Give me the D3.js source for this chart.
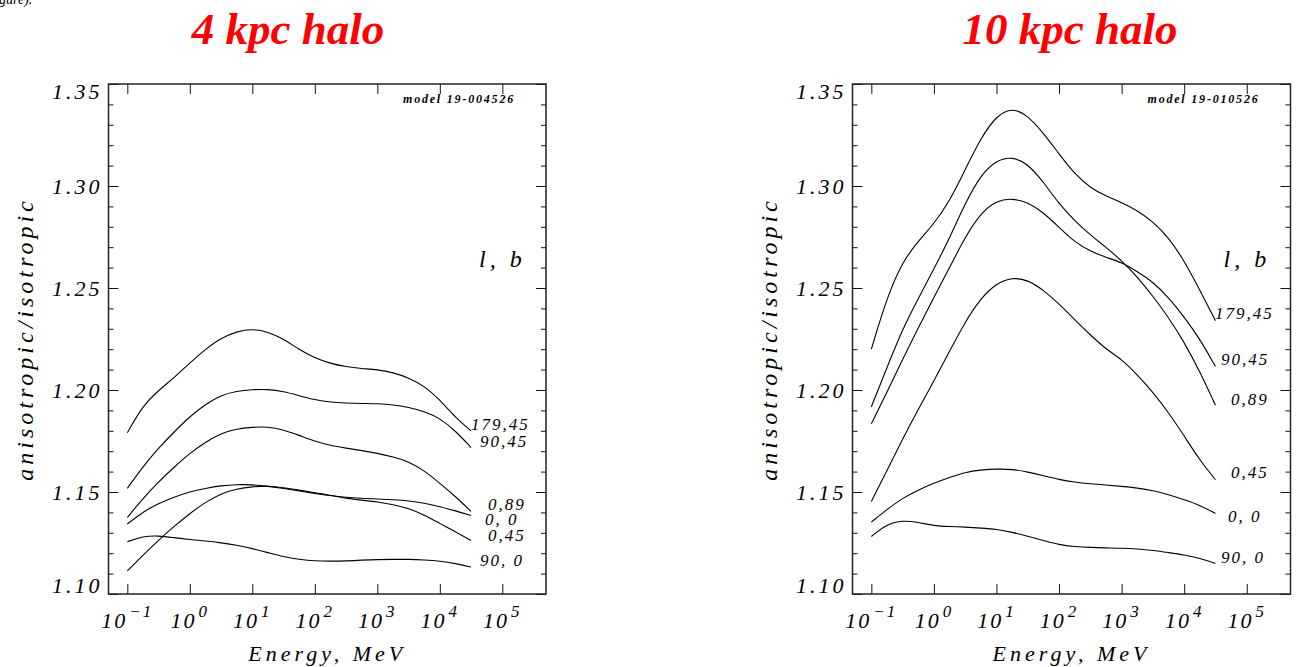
<!DOCTYPE html>
<html lang="en">
  <head>
    <meta charset="UTF-8" />
    <title>anisotropic / isotropic ratio, 4 and 10 kpc halo</title>
    <style type="text/css">
      html,
      body {
        margin: 0;
        padding: 0;
        background: #fff;
      }

      svg {
        display: block;
      }

      text {
        font-family: "Liberation Serif", "Times New Roman", serif;
        font-style: italic;
        fill: #000;
      }

      .tick line {
        stroke: #111;
        stroke-width: 1;
      }

      .frame {
        fill: none;
        stroke: #222;
        stroke-width: 1.5;
      }

      .curve {
        fill: none;
        stroke: #000;
        stroke-width: 1.1;
      }
    </style>
  </head>
  <body>
    <svg id="chart" width="1297" height="667"></svg>

    <script src="https://cdn.jsdelivr.net/npm/d3@7"></script>
    <script>
      // === Data === //

      // energy grid, MeV (quarter-decade steps from 0.1 to 3e4)
      var energy = [0.1, 0.178, 0.316, 0.562, 1, 1.78, 3.16, 5.62, 10, 17.8, 31.6, 56.2,
        100, 178, 316, 562, 1000, 1780, 3160, 5620, 10000, 17800, 31600];

      var seriesNames = ["179,45", "90,45", "0,89", "0, 0", "0,45", "90, 0"];

      // 4 kpc halo
      var h4_179_45 = [1.179, 1.1925, 1.1998, 1.2060, 1.2133, 1.2200, 1.2255, 1.2287, 1.2300, 1.2285, 1.2250, 1.2198,
        1.2157, 1.2130, 1.2114, 1.2105, 1.2100, 1.2086, 1.2060, 1.2020, 1.1952, 1.1865, 1.1800];
      var h4_90_45 = [1.1518, 1.1625, 1.1715, 1.1795, 1.1870, 1.1930, 1.1975, 1.1995, 1.2002, 1.2004, 1.1993, 1.1972,
        1.1952, 1.1940, 1.1936, 1.1934, 1.1933, 1.1928, 1.1916, 1.1895, 1.1862, 1.1800, 1.1718];
      var h4_0_89 = [1.1375, 1.1469, 1.1550, 1.1622, 1.1690, 1.1745, 1.1787, 1.1810, 1.1818, 1.1820, 1.1805, 1.1778,
        1.1748, 1.1728, 1.1715, 1.1703, 1.1690, 1.1672, 1.1650, 1.1605, 1.1543, 1.1478, 1.1405];
      var h4_0_0 = [1.1343, 1.1403, 1.1444, 1.1475, 1.1502, 1.1518, 1.1531, 1.1537, 1.1536, 1.1528, 1.1518, 1.1505,
        1.1493, 1.1482, 1.1474, 1.1469, 1.1466, 1.1462, 1.1457, 1.1446, 1.1428, 1.1408, 1.1385];
      var h4_0_45 = [1.1113, 1.1190, 1.1264, 1.1332, 1.1395, 1.1450, 1.1493, 1.1515, 1.1526, 1.1531, 1.1521, 1.1509,
        1.1497, 1.1483, 1.1469, 1.1460, 1.1452, 1.1438, 1.1420, 1.1388, 1.1346, 1.1305, 1.1262];
      var h4_90_0 = [1.1256, 1.1283, 1.1286, 1.1276, 1.1267, 1.1260, 1.1251, 1.1240, 1.1223, 1.1203, 1.1182, 1.1170,
        1.1162, 1.1161, 1.1162, 1.1166, 1.1169, 1.1170, 1.1170, 1.1167, 1.1162, 1.1150, 1.1132];

      // 10 kpc halo
      var h10_179_45 = [1.2200, 1.2455, 1.2630, 1.2730, 1.2814, 1.2926, 1.3080, 1.3235, 1.3345, 1.3385, 1.3345, 1.3260,
        1.3157, 1.3059, 1.2990, 1.2950, 1.2920, 1.2880, 1.2825, 1.2748, 1.2634, 1.2490, 1.2340];
      var h10_90_45 = [1.1834, 1.1990, 1.2150, 1.2305, 1.2454, 1.2600, 1.2750, 1.2868, 1.2928, 1.2940, 1.2920, 1.2870,
        1.2797, 1.2725, 1.2680, 1.2650, 1.2626, 1.2580, 1.2530, 1.2454, 1.2358, 1.2250, 1.2115];
      var h10_0_89 = [1.1918, 1.2110, 1.2300, 1.2448, 1.2593, 1.2745, 1.2915, 1.3055, 1.3127, 1.3144, 1.3110, 1.3020,
        1.2912, 1.2830, 1.2760, 1.2700, 1.2634, 1.2555, 1.2460, 1.2356, 1.2235, 1.2090, 1.1925];
      var h10_0_0 = [1.1352, 1.1415, 1.1470, 1.1510, 1.1544, 1.1572, 1.1597, 1.1608, 1.1613, 1.1612, 1.1598, 1.1580,
        1.1561, 1.1548, 1.1540, 1.1534, 1.1528, 1.1520, 1.1507, 1.1487, 1.1462, 1.1435, 1.1395];
      var h10_0_45 = [1.1454, 1.1605, 1.1760, 1.1905, 1.2045, 1.2190, 1.2335, 1.2450, 1.2523, 1.2552, 1.2540, 1.2490,
        1.2422, 1.2345, 1.2270, 1.2200, 1.2151, 1.2075, 1.1990, 1.1890, 1.1775, 1.1655, 1.1560];
      var h10_90_0 = [1.1282, 1.1343, 1.1361, 1.1352, 1.1334, 1.1331, 1.1328, 1.1323, 1.1318, 1.1303, 1.1283, 1.1263,
        1.1241, 1.1232, 1.1228, 1.1226, 1.1225, 1.1221, 1.1214, 1.1203, 1.1192, 1.1175, 1.1150];

      var yMajor = [1.10, 1.15, 1.20, 1.25, 1.30, 1.35];
      var yMinor = [1.11, 1.12, 1.13, 1.14, 1.16, 1.17, 1.18, 1.19, 1.21, 1.22, 1.23, 1.24,
        1.26, 1.27, 1.28, 1.29, 1.31, 1.32, 1.33, 1.34];
      var xExponents = [-1, 0, 1, 2, 3, 4, 5];

      // === Layout === //

      var plotTop = 84,
        plotBottom = 594;

      var panels = [
        {
          title: "4 kpc halo",
          titleX: 288,
          left: 108.5,
          right: 546,
          model: "model 19-004526",
          series: [h4_179_45, h4_90_45, h4_0_89, h4_0_0, h4_0_45, h4_90_0],
          // curve label placement (start x relative to frame, baseline y)
          labelDx: [362.5, 371.5, 379.5, 376.5, 379.5, 371.5],
          labelY: [430, 447, 510, 525, 541, 566]
        },
        {
          title: "10 kpc halo",
          titleX: 1070,
          left: 852.5,
          right: 1290.5,
          model: "model 19-010526",
          series: [h10_179_45, h10_90_45, h10_0_89, h10_0_0, h10_0_45, h10_90_0],
          labelDx: [362.5, 368.5, 378.5, 375.5, 378.5, 368.5],
          labelY: [319, 365, 405, 522, 478, 563]
        }
      ];

      var svg = d3.select("#chart");

      // clipped caption remnant at the very top of the page
      svg
        .append("text")
        .attr("x", -1)
        .attr("y", 4)
        .style("font-size", "14px")
        .text("gure).");

      var y = d3.scaleLinear().domain([1.10, 1.35]).range([plotBottom, plotTop]);

      function noDomain(s) {
        s.select(".domain").remove();
      }

      panels.forEach(function(p) {
        var g = svg.append("g");

        var x = d3.scaleLog().domain([0.05, 5e5]).range([p.left, p.right]);
        var xTicks = xExponents.map(function(e) { return Math.pow(10, e); });

        // title
        svg
          .append("text")
          .attr("x", p.titleX)
          .attr("y", 44)
          .attr("text-anchor", "middle")
          .style("font-size", "45px")
          .style("font-weight", "bold")
          .style("fill", "#ff0000")
          .text(p.title);

        // ticks
        g.append("g")
          .attr("transform", "translate(" + p.left + ",0)")
          .call(d3.axisLeft(y).tickValues(yMinor).tickSize(-5).tickFormat(""))
          .call(noDomain);

        g.append("g")
          .attr("transform", "translate(" + p.right + ",0)")
          .call(d3.axisRight(y).tickValues(yMinor).tickSize(-5).tickFormat(""))
          .call(noDomain);

        g.append("g")
          .attr("transform", "translate(" + p.right + ",0)")
          .call(d3.axisRight(y).tickValues(yMajor).tickSize(-10).tickFormat(""))
          .call(noDomain);

        var yAx = g.append("g")
          .attr("transform", "translate(" + p.left + ",0)")
          .call(d3.axisLeft(y).tickValues(yMajor).tickSize(-10).tickPadding(6).tickFormat(d3.format(".2f")))
          .call(noDomain);

        yAx.selectAll("text")
          .style("font-size", "22px")
          .style("letter-spacing", "3px")
          .style("font-family", "'Liberation Serif', serif")
          .attr("dy", function(d) {
            if (d === 1.10) return "-0.05em";
            if (d === 1.35) return "0.65em";
            return "0.32em";
          });

        g.append("g")
          .attr("transform", "translate(0," + plotBottom + ")")
          .call(d3.axisBottom(x).tickValues(xTicks).tickSize(-10).tickFormat(""))
          .call(noDomain);

        g.append("g")
          .attr("transform", "translate(0," + plotTop + ")")
          .call(d3.axisTop(x).tickValues(xTicks).tickSize(-10).tickFormat(""))
          .call(noDomain);

        // frame
        g.append("rect")
          .attr("class", "frame")
          .attr("x", p.left)
          .attr("y", plotTop)
          .attr("width", p.right - p.left)
          .attr("height", plotBottom - plotTop);

        // x tick labels 10^n
        xExponents.forEach(function(e) {
          var t = g.append("text")
            .attr("x", x(Math.pow(10, e)))
            .attr("y", 628)
            .attr("text-anchor", "middle")
            .style("letter-spacing", "2px");
          t.append("tspan").style("font-size", "22px").text("10");
          t.append("tspan")
            .attr("dy", -11)
            .attr("dx", 2)
            .style("font-size", "17px")
            .text(e < 0 ? "\u2212" + (-e) : String(e));
        });

        // axis titles
        g.append("text")
          .attr("x", (p.left + p.right) / 2)
          .attr("y", 661)
          .attr("text-anchor", "middle")
          .style("font-size", "22px")
          .style("letter-spacing", "4px")
          .text("Energy, MeV");

        g.append("text")
          .attr("transform", "translate(" + (p.left - 76) + "," + ((plotTop + plotBottom) / 2) + ") rotate(-90)")
          .attr("text-anchor", "middle")
          .style("font-size", "24px")
          .style("letter-spacing", "4px")
          .text("anisotropic/isotropic");

        // annotations
        g.append("text")
          .attr("x", p.right - 31)
          .attr("y", 103)
          .attr("text-anchor", "end")
          .style("font-size", "12px")
          .style("font-weight", "bold")
          .style("letter-spacing", "1.8px")
          .text(p.model);

        g.append("text")
          .attr("x", p.right - 67)
          .attr("y", 267)
          .style("font-size", "24px")
          .style("letter-spacing", "4px")
          .text("l, b");

        // curves (smooth B-spline through the read-off points)
        var line = d3.line()
          .x(function(d) { return x(d[0]); })
          .y(function(d) { return y(d[1]); })
          .curve(d3.curveBasis);

        p.series.forEach(function(vals, i) {
          var pts = energy.map(function(e, k) { return [e, vals[k]]; });
          g.append("path").attr("class", "curve").attr("d", line(pts));

          g.append("text")
            .attr("x", p.left + p.labelDx[i])
            .attr("y", p.labelY[i])
            .style("font-size", "17px")
            .style("letter-spacing", "2px")
            .text(seriesNames[i]);
        });
      });
    </script>
  </body>
</html>
